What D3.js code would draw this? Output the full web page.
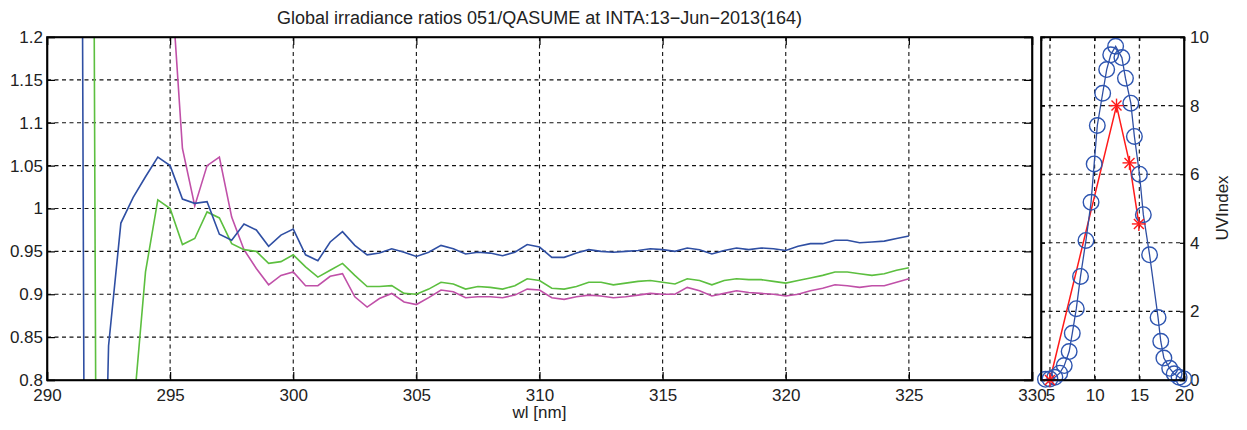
<!DOCTYPE html>
<html><head><meta charset="utf-8">
<script src="https://cdn.jsdelivr.net/npm/d3@7"></script>
<style>body{margin:0;background:#fff;} text{font-family:"Liberation Sans",Arial,Helvetica,sans-serif;}</style>
</head><body><svg id="c" width="1247" height="430"></svg>
<script>
// ---- data ----
const titleText = "Global irradiance ratios 051/QASUME at INTA:13\u2212Jun\u22122013(164)";
const wl = d3.range(290, 325.001, 0.5);
const ratioBlue = [3.0,3.5,4.6,0.78,0.2,0.84,0.983,1.013,1.037,1.060,1.050,1.011,1.006,1.008,0.970,0.963,0.982,0.975,0.956,0.969,0.976,0.946,0.939,0.961,0.973,0.957,0.946,0.948,0.953,0.949,0.944,0.949,0.957,0.953,0.947,0.949,0.948,0.945,0.949,0.958,0.955,0.943,0.943,0.948,0.952,0.950,0.949,0.950,0.951,0.953,0.952,0.950,0.954,0.952,0.947,0.951,0.954,0.952,0.954,0.953,0.951,0.956,0.959,0.959,0.963,0.963,0.960,0.961,0.962,0.965,0.968];
const ratioGreen = [2.5,3.0,3.6,4.13,0.63,0.55,0.6,0.76,0.926,1.010,1.000,0.958,0.965,0.996,0.989,0.959,0.952,0.950,0.936,0.938,0.946,0.932,0.920,0.928,0.936,0.922,0.909,0.909,0.910,0.901,0.900,0.906,0.914,0.912,0.906,0.909,0.908,0.906,0.910,0.918,0.916,0.907,0.906,0.909,0.914,0.914,0.911,0.913,0.915,0.916,0.914,0.912,0.918,0.916,0.911,0.916,0.918,0.917,0.917,0.915,0.913,0.916,0.919,0.922,0.926,0.926,0.924,0.922,0.924,0.928,0.931];
const ratioMagenta = [3.0,3.0,3.0,3.0,3.0,3.0,2.8,2.5,2.0,1.6,1.287,1.070,1.003,1.050,1.060,0.990,0.952,0.930,0.911,0.922,0.926,0.910,0.910,0.921,0.924,0.897,0.885,0.895,0.901,0.891,0.888,0.896,0.905,0.903,0.896,0.897,0.897,0.896,0.899,0.906,0.905,0.896,0.894,0.897,0.899,0.898,0.896,0.897,0.899,0.901,0.900,0.900,0.908,0.904,0.898,0.901,0.904,0.902,0.901,0.900,0.898,0.900,0.904,0.907,0.911,0.910,0.908,0.910,0.910,0.914,0.918];
const xTicksL = [290,295,300,305,310,315,320,325,330];
const yTicksL = [0.8,0.85,0.9,0.95,1,1.05,1.1,1.15,1.2];
const uvTime = [4.5,5.0,5.55,6.1,6.6,7.15,7.5,7.95,8.42,9.03,9.6,9.95,10.3,10.9,11.35,11.8,12.35,13.05,13.45,14.05,14.45,15.02,15.45,16.15,17.1,17.4,17.75,18.4,18.9,19.45,20.0];
const uvIndex = [0.02,0.03,0.08,0.2,0.42,0.83,1.36,2.08,3.02,4.07,5.18,6.3,7.42,8.36,9.05,9.48,9.73,9.4,8.8,8.07,7.1,6.0,4.82,3.65,1.82,1.13,0.64,0.34,0.18,0.08,0.03];
const starTime = [5.0,12.45,13.9,14.95];
const starUV = [0.0,8.0,6.33,4.55];
const xTicksR = [5,10,15,20];
const yTicksR = [0,2,4,6,8,10];

// ---- layout ----
const svg = d3.select("#c");
const L = {x0:47, x1:1032, y0:37, y1:380};
const R = {x0:1041, x1:1184, y0:37, y1:380};
const fs = 17;
const colB="#2f4fa3", colG="#5cbf3f", colM="#c050a8";
const gridCol="#111", gridDash="4,3.5", gridW=1.1;

const xL = d3.scaleLinear().domain([290,330]).range([L.x0,L.x1]);
const yL = d3.scaleLinear().domain([0.8,1.2]).range([L.y1,L.y0]);
const xR = d3.scaleLinear().domain([4,20]).range([R.x0,R.x1]);
const yR = d3.scaleLinear().domain([0,10]).range([R.y1,R.y0]);

const defs = svg.append("defs");
defs.append("clipPath").attr("id","clipL").append("rect").attr("x",L.x0).attr("y",L.y0).attr("width",L.x1-L.x0).attr("height",L.y1-L.y0);

// ---- left grid ----
const gL = svg.append("g");
gL.selectAll(".gx").data(xTicksL.slice(1,-1)).join("line")
  .attr("x1",d=>xL(d)).attr("x2",d=>xL(d)).attr("y1",L.y0).attr("y2",L.y1)
  .attr("stroke",gridCol).attr("stroke-width",gridW).attr("stroke-dasharray",gridDash);
gL.selectAll(".gy").data(yTicksL.slice(1,-1)).join("line")
  .attr("y1",d=>yL(d)).attr("y2",d=>yL(d)).attr("x1",L.x0).attr("x2",L.x1)
  .attr("stroke",gridCol).attr("stroke-width",gridW).attr("stroke-dasharray",gridDash);

// lines
const lineGen = d3.line().x((d,i)=>xL(wl[i])).y(d=>yL(d));
const linesG = svg.append("g").attr("clip-path","url(#clipL)");
[[ratioMagenta,colM],[ratioGreen,colG],[ratioBlue,colB]].forEach(([arr,c])=>{
  linesG.append("path").datum(arr).attr("d",lineGen).attr("fill","none").attr("stroke",c).attr("stroke-width",1.6);
});

// axes left
const tkL = 8;
svg.append("g").attr("transform",`translate(0,${L.y1})`)
  .call(d3.axisBottom(xL).tickValues(xTicksL).tickSize(-tkL).tickPadding(9).tickFormat(d3.format("d")));
svg.append("g").attr("transform",`translate(0,${L.y0})`)
  .call(d3.axisTop(xL).tickValues(xTicksL).tickSize(-tkL).tickFormat(""));
svg.append("g").attr("transform",`translate(${L.x0},0)`)
  .call(d3.axisLeft(yL).tickValues(yTicksL).tickSize(-tkL).tickPadding(4).tickFormat(d=>String(+d.toFixed(2))));
svg.append("g").attr("transform",`translate(${L.x1},0)`)
  .call(d3.axisRight(yL).tickValues(yTicksL).tickSize(-tkL).tickFormat(""));

// ---- right plot ----
const gR = svg.append("g");
gR.selectAll(".gx").data([5,10,15]).join("line")
  .attr("x1",d=>xR(d)).attr("x2",d=>xR(d)).attr("y1",R.y0).attr("y2",R.y1)
  .attr("stroke",gridCol).attr("stroke-width",gridW).attr("stroke-dasharray",gridDash);
gR.selectAll(".gy").data([2,4,6,8]).join("line")
  .attr("y1",d=>yR(d)).attr("y2",d=>yR(d)).attr("x1",R.x0).attr("x2",R.x1)
  .attr("stroke",gridCol).attr("stroke-width",gridW).attr("stroke-dasharray",gridDash);

const tkR = 4;
svg.append("g").attr("transform",`translate(0,${R.y1})`)
  .call(d3.axisBottom(xR).tickValues(xTicksR).tickSize(-tkR).tickPadding(9).tickFormat(d3.format("d")));
svg.append("g").attr("transform",`translate(0,${R.y0})`)
  .call(d3.axisTop(xR).tickValues(xTicksR).tickSize(-tkR).tickFormat(""));
svg.append("g").attr("transform",`translate(${R.x1},0)`)
  .call(d3.axisRight(yR).tickValues(yTicksR).tickSize(-tkR).tickPadding(6).tickFormat(d3.format("d")));
svg.append("g").attr("transform",`translate(${R.x0},0)`)
  .call(d3.axisLeft(yR).tickValues(yTicksR).tickSize(-tkR).tickFormat(""));

// red line + stars
const uvPairs = uvTime.map((t,i)=>[t,uvIndex[i]]);
const starPairs = starTime.map((t,i)=>[t,starUV[i]]);
const lineR = d3.line().x(d=>xR(d[0])).y(d=>yR(d[1]));
svg.append("path").datum(starPairs).attr("d",lineR).attr("fill","none").attr("stroke","#ff1a1a").attr("stroke-width",1.5);
svg.append("path").datum(uvPairs).attr("d",lineR).attr("fill","none").attr("stroke",colB).attr("stroke-width",1.3);
svg.append("g").selectAll("circle").data(uvPairs).join("circle")
  .attr("cx",d=>xR(d[0])).attr("cy",d=>yR(d[1])).attr("r",7.8)
  .attr("fill","none").attr("stroke","#2e55b0").attr("stroke-width",1.4);
const st = svg.append("g").attr("stroke","#ff1a1a").attr("stroke-width",1.4);
starPairs.forEach(d=>{
  const cx=xR(d[0]), cy=yR(d[1]), s=7, s2=5;
  st.append("line").attr("x1",cx-s).attr("x2",cx+s).attr("y1",cy).attr("y2",cy);
  st.append("line").attr("x1",cx).attr("x2",cx).attr("y1",cy-s).attr("y2",cy+s);
  st.append("line").attr("x1",cx-s2).attr("x2",cx+s2).attr("y1",cy-s2).attr("y2",cy+s2);
  st.append("line").attr("x1",cx-s2).attr("x2",cx+s2).attr("y1",cy+s2).attr("y2",cy-s2);
});

// style all axes
svg.selectAll(".domain").attr("stroke","#000").attr("stroke-width",1.6);
svg.selectAll(".tick line").attr("stroke","#000").attr("stroke-width",1.2);
svg.selectAll(".tick text").attr("font-size",fs).attr("fill","#222").style("font-family",'"Liberation Sans",Arial,sans-serif');
[L,R].forEach(b=>svg.append("rect").attr("x",b.x0).attr("y",b.y0).attr("width",b.x1-b.x0).attr("height",b.y1-b.y0)
  .attr("fill","none").attr("stroke","#000").attr("stroke-width",1.6));

// texts
svg.append("text").attr("x",(L.x0+L.x1)/2).attr("y",24).attr("text-anchor","middle").attr("font-size",18).attr("fill","#222").text(titleText);
svg.append("text").attr("x",(L.x0+L.x1)/2).attr("y",418).attr("text-anchor","middle").attr("font-size",17).attr("fill","#222").text("wl [nm]");
svg.append("text").attr("transform","translate(1228,208) rotate(-90)").attr("text-anchor","middle").attr("font-size",fs).attr("fill","#222").text("UVIndex");
</script></body></html>
